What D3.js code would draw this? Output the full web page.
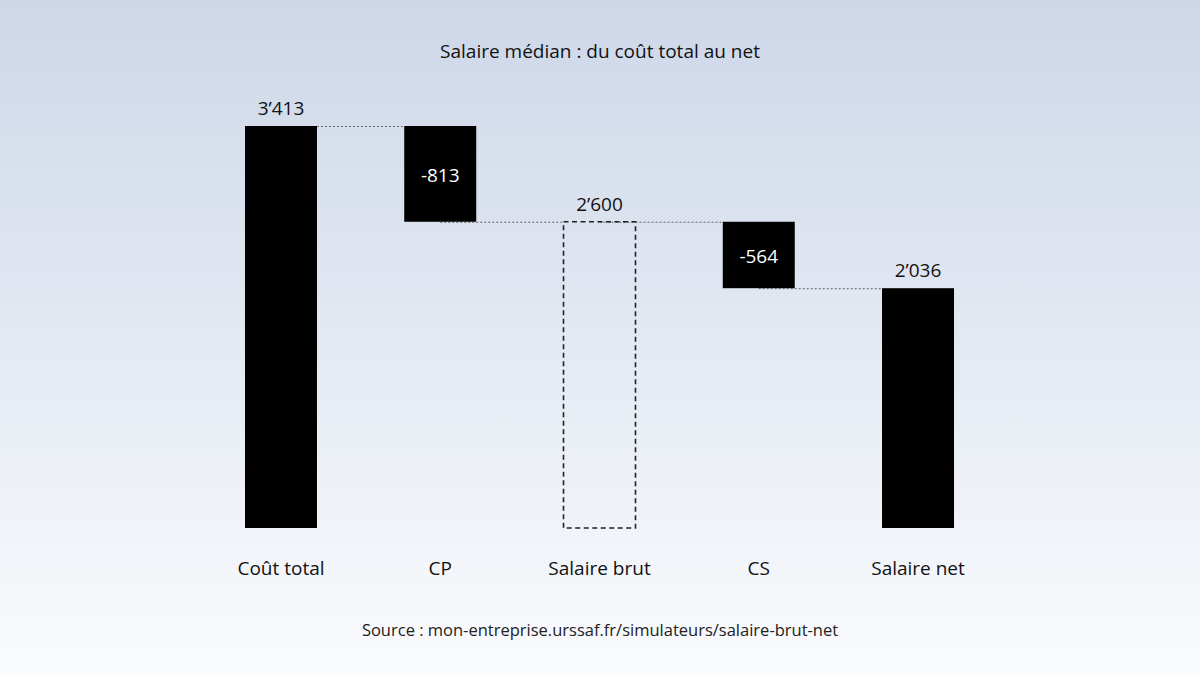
<!DOCTYPE html>
<html><head><meta charset="utf-8">
<script src="https://cdn.jsdelivr.net/npm/d3@7"></script>
<style>
html,body{margin:0;padding:0;}
svg{display:block;font-family:"Open Sans",sans-serif;}
</style></head><body>
<svg id="chart" width="1200" height="675"></svg>
<script>
const categories = ["Coût total", "CP", "Salaire brut", "CS", "Salaire net"];
const kinds = ["total", "delta", "subtotal", "delta", "total"];
const values = [3413, -813, 2600, -564, 2036];
const titleText = "Salaire médian : du coût total au net";
const sourceText = "Source : mon-entreprise.urssaf.fr/simulateurs/salaire-brut-net";

const W = 1200, H = 675;
const svg = d3.select("#chart");

const defs = svg.append("defs");
const grad = defs.append("linearGradient").attr("id","bg").attr("x1",0).attr("y1",0).attr("x2",0).attr("y2",1);
grad.append("stop").attr("offset","0%").attr("stop-color","#cdd7e8");
grad.append("stop").attr("offset","100%").attr("stop-color","#fafbfd");
svg.append("rect").attr("width",W).attr("height",H).attr("fill","url(#bg)");

const loc = d3.formatLocale({decimal: ".", thousands: "’", grouping: [3], currency: ["", ""]});
const fmt = loc.format(",d");

let running = 0;
const bars = categories.map((c, i) => {
  const v = values[i];
  let y0, y1;
  if (kinds[i] === "delta") { y0 = running; y1 = running + v; running = y1; }
  else { y0 = 0; y1 = v; running = v; }
  return {cat: c, kind: kinds[i], v, lo: Math.min(y0, y1), hi: Math.max(y0, y1), end: running};
});

const x = d3.scaleBand().domain(categories).range([201.35, 997.65]).paddingInner(0.548).paddingOuter(0.274);
const y = d3.scaleLinear().domain([0, 3413]).range([528, 126]);

const g = svg.append("g");

bars.forEach((b, i) => {
  if (i === bars.length - 1) return;
  const nx = x(categories[i + 1]);
  g.append("line")
    .attr("x1", x(b.cat) + x.bandwidth() / 2).attr("x2", nx)
    .attr("y1", y(b.end) + 0.5).attr("y2", y(b.end) + 0.5)
    .attr("stroke", "#666").attr("stroke-width", 1).attr("stroke-dasharray", "2,2");
});

bars.forEach(b => {
  const r = g.append("rect")
    .attr("x", x(b.cat)).attr("width", x.bandwidth())
    .attr("y", y(b.hi)).attr("height", y(b.lo) - y(b.hi));
  if (b.kind === "subtotal") {
    r.attr("fill", "none").attr("stroke", "#222").attr("stroke-width", 1.6).attr("stroke-dasharray", "5,3.5");
  } else {
    r.attr("fill", "#000");
  }
});

bars.forEach(b => {
  const cx = x(b.cat) + x.bandwidth() / 2;
  if (b.kind === "delta") {
    g.append("text").attr("x", cx).attr("y", (y(b.hi) + y(b.lo)) / 2 + 1)
      .attr("text-anchor", "middle").attr("dominant-baseline", "central")
      .attr("fill", "#fff").attr("font-size", 19).text(fmt(b.v).replace("−", "-"));
  } else {
    g.append("text").attr("x", cx).attr("y", y(b.hi) - 11)
      .attr("text-anchor", "middle").attr("fill", "#111").attr("font-size", 19).text(fmt(b.v));
  }
});

const xAxis = d3.axisBottom(x).tickSize(0).tickPadding(0);
const ax = svg.append("g").attr("transform", "translate(0,561)").call(xAxis);
ax.select(".domain").remove();
ax.selectAll("text").attr("font-size", 19).attr("fill", "#111").attr("font-family", "'Open Sans',sans-serif");

svg.append("text").attr("x", 600).attr("y", 58).attr("text-anchor", "middle")
  .attr("font-size", 19).attr("fill", "#111").text(titleText);
svg.append("text").attr("x", 600).attr("y", 636).attr("text-anchor", "middle")
  .attr("font-size", 16.5).attr("fill", "#222").text(sourceText);
</script>
</body></html>
